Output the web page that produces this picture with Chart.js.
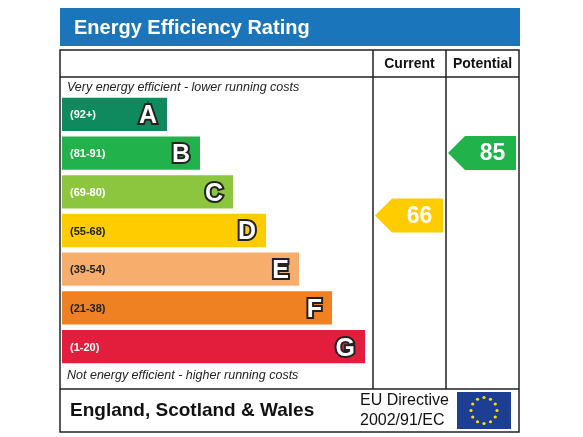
<!DOCTYPE html>
<html>
<head>
<meta charset="utf-8">
<script src="https://cdn.jsdelivr.net/npm/chart.js@4"></script>
<style>
  html, body { margin: 0; padding: 0; background: #fff; }
</style>
</head>
<body>
<canvas id="epc" width="583" height="437"></canvas>
<script>
// bands, top to bottom
const bandLetters = ['A', 'B', 'C', 'D', 'E', 'F', 'G'];
const bandRanges = ['(92+)', '(81-91)', '(69-80)', '(55-68)', '(39-54)', '(21-38)', '(1-20)'];
const bandLengths = [105, 138, 171, 204, 237, 270, 303];
const bandColors = ['#0f8a5f', '#21b24b', '#8cc63f', '#ffcc00', '#f7ae6c', '#f08122', '#e31d3c'];

const currentRating = 66;   // band D
const potentialRating = 85; // band B

function bandIndexFor(score) {
    if (score >= 92) return 0;
    if (score >= 81) return 1;
    if (score >= 69) return 2;
    if (score >= 55) return 3;
    if (score >= 39) return 4;
    if (score >= 21) return 5;
    return 6;
}

// frame geometry
const L = 60, R = 519, T = 50, B = 432;
const colCur = 373, colPot = 446, headBottom = 77, footTop = 389;

function arrow(ctx, xTip, xEnd, y, h, color, label) {
    ctx.fillStyle = color;
    ctx.beginPath();
    ctx.moveTo(xTip, y);
    ctx.lineTo(xTip + h / 2, y - h / 2);
    ctx.lineTo(xEnd, y - h / 2);
    ctx.lineTo(xEnd, y + h / 2);
    ctx.lineTo(xTip + h / 2, y + h / 2);
    ctx.closePath();
    ctx.fill();
    ctx.fillStyle = '#fff';
    ctx.font = 'bold 23px "Liberation Sans", Arial, sans-serif';
    ctx.textAlign = 'center';
    ctx.textBaseline = 'middle';
    ctx.fillText(label, (xTip + h / 2 + xEnd) / 2 + 2, y + 1);
}

const epcPlugin = {
    id: 'epc',
    beforeDraw(chart) {
        const ctx = chart.ctx;
        ctx.save();
        ctx.fillStyle = '#fff';
        ctx.fillRect(0, 0, chart.width, chart.height);
        // title bar
        ctx.fillStyle = '#1b75bb';
        ctx.fillRect(L, 8, R - L + 1, 38);
        ctx.fillStyle = '#fff';
        ctx.font = 'bold 20px "Liberation Sans", Arial, sans-serif';
        ctx.textBaseline = 'middle';
        ctx.textAlign = 'left';
        ctx.fillText('Energy Efficiency Rating', 74, 28);
        ctx.restore();
    },
    afterDraw(chart) {
        const ctx = chart.ctx;
        const ys = chart.scales.y;
        const meta = chart.getDatasetMeta(0);
        ctx.save();
        // frame and grid
        ctx.strokeStyle = '#222';
        ctx.lineWidth = 1.5;
        ctx.strokeRect(L, T, R - L, B - T);
        ctx.beginPath();
        ctx.moveTo(L, headBottom); ctx.lineTo(R, headBottom);
        ctx.moveTo(L, footTop); ctx.lineTo(R, footTop);
        ctx.moveTo(colCur, T); ctx.lineTo(colCur, footTop);
        ctx.moveTo(colPot, T); ctx.lineTo(colPot, footTop);
        ctx.stroke();

        ctx.fillStyle = '#111';
        ctx.font = 'bold 14px "Liberation Sans", Arial, sans-serif';
        ctx.textAlign = 'center';
        ctx.textBaseline = 'middle';
        ctx.fillText('Current', (colCur + colPot) / 2, 64);
        ctx.fillText('Potential', (colPot + R) / 2, 64);

        ctx.font = 'italic 12.5px "Liberation Sans", Arial, sans-serif';
        ctx.textAlign = 'left';
        ctx.fillStyle = '#222';
        ctx.fillText('Very energy efficient - lower running costs', 67, 88);
        ctx.fillText('Not energy efficient - higher running costs', 67, 376);

        // band labels
        meta.data.forEach((bar, i) => {
            const y = bar.y;
            ctx.textAlign = 'left';
            ctx.fillStyle = (i >= 3 && i <= 5) ? '#222' : '#fff';
            ctx.font = 'bold 11px "Liberation Sans", Arial, sans-serif';
            ctx.fillText(bandRanges[i], 70, y + 1);
            ctx.font = 'bold 25px "Liberation Sans", Arial, sans-serif';
            ctx.textAlign = 'right';
            ctx.lineWidth = 4;
            ctx.strokeStyle = '#222';
            ctx.strokeText(bandLetters[i], bar.x - 10, y + 2);
            ctx.fillStyle = '#fff';
            ctx.fillText(bandLetters[i], bar.x - 10, y + 2);
        });

        // rating arrows
        const ci = bandIndexFor(currentRating), pi = bandIndexFor(potentialRating);
        arrow(ctx, 375, 443, ys.getPixelForValue(ci) - 15, 34, bandColors[ci], String(currentRating));
        arrow(ctx, 448, 516, ys.getPixelForValue(pi), 34, bandColors[pi], String(potentialRating));

        // footer
        ctx.fillStyle = '#111';
        ctx.textAlign = 'left';
        ctx.font = 'bold 19px "Liberation Sans", Arial, sans-serif';
        ctx.fillText('England, Scotland & Wales', 70, 411);
        ctx.font = '16px "Liberation Sans", Arial, sans-serif';
        ctx.fillText('EU Directive', 360, 401);
        ctx.fillText('2002/91/EC', 360, 421);
        // EU flag
        ctx.fillStyle = '#1c3f94';
        ctx.fillRect(457, 392, 54, 37);
        ctx.fillStyle = '#ffdd00';
        for (let k = 0; k < 12; k++) {
            const a = k * Math.PI / 6;
            ctx.beginPath();
            ctx.arc(484 + 13 * Math.cos(a), 410.5 + 13 * Math.sin(a), 1.6, 0, Math.PI * 2);
            ctx.fill();
        }
        ctx.restore();
    }
};

new Chart(document.getElementById('epc'), {
    type: 'bar',
    data: {
        labels: bandLetters,
        datasets: [{
            data: bandLengths,
            backgroundColor: bandColors,
            borderWidth: 0,
            barPercentage: 0.86,
            categoryPercentage: 1
        }]
    },
    plugins: [epcPlugin],
    options: {
        indexAxis: 'y',
        responsive: false,
        animation: false,
        devicePixelRatio: 1,
        layout: { padding: { left: 62, top: 95, right: 583 - 373, bottom: 437 - 366 } },
        plugins: { legend: { display: false }, tooltip: { enabled: false } },
        scales: {
            x: { min: 0, max: 311, display: false },
            y: { display: false }
        }
    }
});
</script>
</body>
</html>
